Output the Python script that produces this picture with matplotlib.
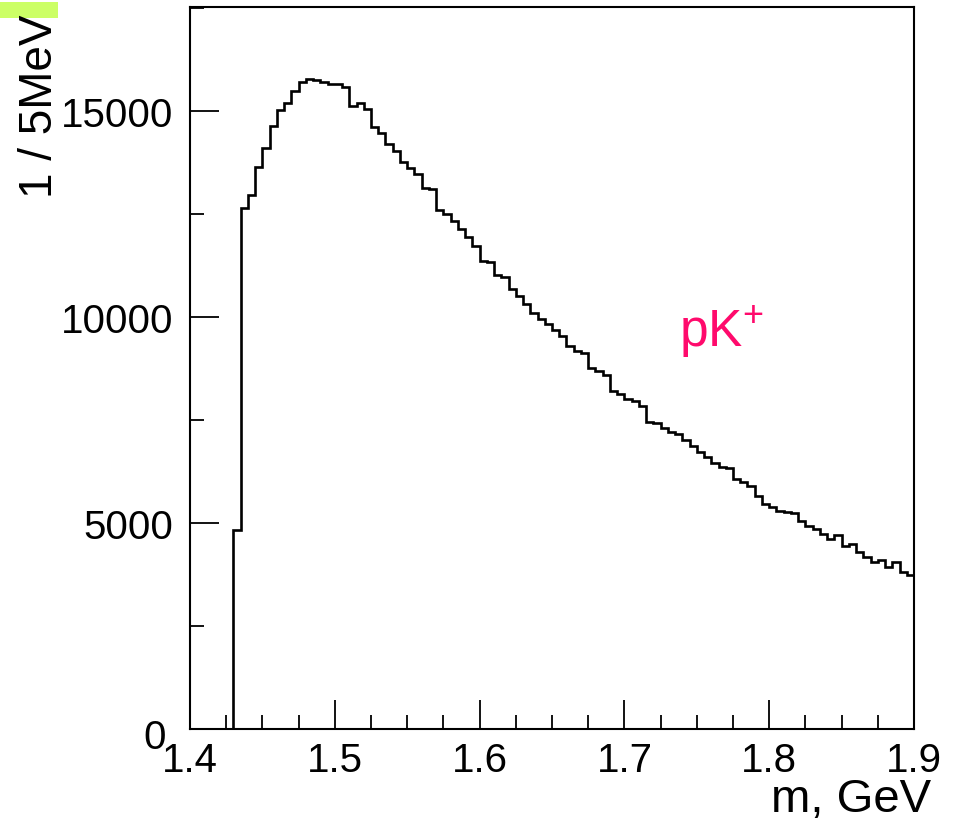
import numpy as np
import matplotlib
matplotlib.use("Agg")
from matplotlib import pyplot as plt
from matplotlib.patches import Rectangle
from matplotlib.ticker import MultipleLocator
from matplotlib.transforms import ScaledTranslation

plt.rcParams['font.family'] = ['Liberation Sans', 'DejaVu Sans']
plt.rcParams['mathtext.fontset'] = 'custom'
plt.rcParams['mathtext.rm'] = 'Liberation Sans'
plt.rcParams['mathtext.it'] = 'Liberation Sans'

# histogram, 5 MeV bins from 1.40 to 1.90 GeV
m_lo = 1.40
m_hi = 1.90
nbins = 100

counts = [
    0, 0, 0, 0, 0, 0,
    4830, 12650, 12960, 13630, 14100, 14630, 15030, 15190, 15490, 15690,
    15780, 15740, 15700, 15660, 15640, 15570, 15110, 15180, 15050, 14600,
    14460, 14200, 14020, 13760, 13620, 13470, 13130, 13110, 12590, 12490,
    12320, 12130, 11930, 11720, 11360, 11340, 11010, 10970, 10670, 10515,
    10315, 10100, 9950, 9830, 9670, 9540, 9300, 9180, 9125, 8760,
    8680, 8590, 8210, 8140, 8010, 7970, 7840, 7460, 7420, 7300,
    7210, 7160, 7020, 6870, 6720, 6600, 6450, 6350, 6340, 6070,
    5990, 5905, 5660, 5460, 5380, 5300, 5260, 5250, 5055, 4935,
    4855, 4730, 4610, 4710, 4450, 4490, 4305, 4165, 4045, 4100,
    3925, 4060, 3820, 3745,
]

xticks = [1.4, 1.5, 1.6, 1.7, 1.8, 1.9]
xticklabels = ["1.4", "1.5", "1.6", "1.7", "1.8", "1.9"]
yticks = [0, 5000, 10000, 15000]
yticklabels = ["0", "5000", "10000", "15000"]
ylim_top = 17520

edges = np.linspace(m_lo, m_hi, nbins + 1)

fig = plt.figure(figsize=(9.61, 8.29), dpi=100)
ax = fig.add_axes([190/961, 99/829, 724/961, 722/829])

ax.stairs(counts, edges, color="black", linewidth=1.9, baseline=0)

ax.set_xlim(m_lo, m_hi)
ax.set_ylim(0, ylim_top)

ax.set_xticks(xticks)
ax.set_xticklabels(xticklabels)
ax.set_yticks(yticks)
ax.set_yticklabels(yticklabels)
ax.xaxis.set_minor_locator(MultipleLocator(0.025))
ax.yaxis.set_minor_locator(MultipleLocator(2500))

ax.tick_params(which="both", direction="in", top=False, right=False, width=1.3, labelsize=29)
ax.tick_params(which="major", length=21)
ax.tick_params(which="minor", length=10)
ax.tick_params(axis="x", pad=9)
ax.tick_params(axis="y", pad=12)
for s in ax.spines.values():
    s.set_linewidth(1.5)

# ROOT puts the "0" a bit lower and to the left
zero_lab = ax.yaxis.get_major_ticks()[0].label1
zero_lab.set_transform(zero_lab.get_transform() + ScaledTranslation(-7/100, -4/100, fig.dpi_scale_trans))

ax.text(1.738, 9296, "pK$^{+}$", color="#ff0a6c", fontsize=37, ha="left", va="baseline")

fig.text(931/961, 29/829, "m, GeV", fontsize=34, ha="right", va="center")
fig.text(40/961, 1 - 15/829, "1 / 5MeV", fontsize=33, rotation=90, ha="center", va="top", zorder=5)

fig.patches.append(Rectangle((0, 1 - 19/829), 58/961, 16/829, transform=fig.transFigure,
                             facecolor="#ccff66", edgecolor="none", zorder=1))

fig.savefig("out.png", dpi=100)
